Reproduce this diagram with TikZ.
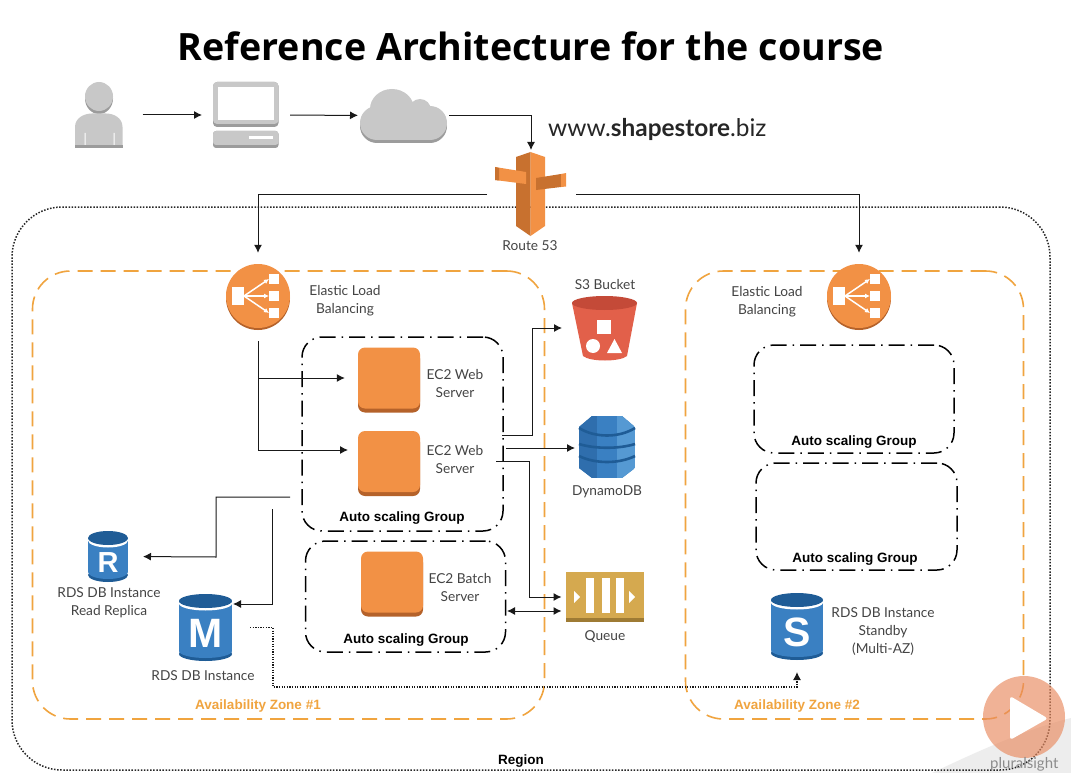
\documentclass[tikz,border=0pt]{standalone}
\usepackage{fontspec}
\setmainfont{Lato}
\newfontfamily\titlefont{Open Sans}
\newfontfamily\groupfont{Liberation Sans}
\usetikzlibrary{arrows.meta,shadows}

\definecolor{awsorange}{HTML}{F29145}
\definecolor{awsorangedark}{HTML}{B5622A}
\definecolor{routedark}{HTML}{C8712F}
\definecolor{zoneorange}{HTML}{F0A43F}
\definecolor{iconblue}{HTML}{3A80C2}
\definecolor{iconbluedark}{HTML}{1F5C96}
\definecolor{iconbluelight}{HTML}{5599D3}
\definecolor{iconblueside}{HTML}{2F6EAD}
\definecolor{icongray}{HTML}{C8C8C8}
\definecolor{icongraydark}{HTML}{9C9C9C}
\definecolor{bucketred}{HTML}{E2604A}
\definecolor{bucketdark}{HTML}{C44A38}
\definecolor{queuegold}{HTML}{D5A94F}
\definecolor{queuedark}{HTML}{9E7B34}
\definecolor{labelgray}{HTML}{444444}
\definecolor{badgeorange}{HTML}{E98A5F}

\tikzset{
	flow/.style={draw=black!90,line width=1pt,-{Latex[length=8pt,width=8pt]}},
	textlabel/.style={text=labelgray,align=center,font=\fontsize{13.7}{18}\selectfont,inner sep=0pt},
	grouplabel/.style={text=black,font=\groupfont\bfseries\fontsize{13.5}{16}\selectfont,inner sep=0pt},
	zonelabel/.style={text=zoneorange,font=\groupfont\bfseries\fontsize{13.5}{16}\selectfont,inner sep=0pt},
	regionbox/.style={draw=black!85,line width=1.5pt,dash pattern=on 1.5pt off 1.6pt,rounded corners=50pt,inner sep=0pt},
	zonebox/.style={draw=zoneorange,line width=1.6pt,dash pattern=on 15pt off 8pt,rounded corners=38pt,inner sep=0pt},
	asgbox/.style={draw=black,line width=1.5pt,dash pattern=on 16pt off 6pt on 1.5pt off 6pt,rounded corners=20pt,inner sep=0pt},
	iconslot/.style={inner sep=0pt,outer sep=0pt},
	ecbox/.style={fill=awsorange,rounded corners=7pt,minimum width=62pt,minimum height=61pt,inner sep=0pt,
		drop shadow={shadow xshift=0pt,shadow yshift=-4pt,fill=awsorangedark,opacity=1}},
	elbcircle/.style={circle,fill=awsorange,minimum size=64pt,inner sep=0pt,
		drop shadow={shadow xshift=0pt,shadow yshift=-2pt,fill=awsorangedark,opacity=1}},
}

% load balancer with its white glyph
\newcommand{\elbnode}[3]{
	\node[elbcircle] (#1) at (#2,#3) {};
	\begin{scope}[shift={(#2,#3)}]
		\fill[white] (-26,-9) rectangle (-14,9);
		\foreach \yy in {-17,0,17}{
			\fill[white] (11,\yy-5) rectangle (21,\yy+5);
			\draw[white,line width=1.5pt,-{Latex[length=5pt,width=5pt]}] (-14,0) -- (11,\yy);
		}
	\end{scope}
}
% database drum: name, centre x, top, bottom, half width, letter, letter size
\newcommand{\rdsnode}[7]{
	\node[iconslot,minimum width=2*#5 pt,minimum height=#4 pt-#3 pt] (#1) at (#2,{(#3+#4)/2}) {};
	\fill[iconbluedark] (#2,#4-7) circle[x radius=#5,y radius=7];
	\fill[iconblue] (#2-#5,#3+7) rectangle (#2+#5,#4-10);
	\fill[iconblue] (#2,#4-10) circle[x radius=#5,y radius=7];
	\fill[white] (#2,#3+9.5) circle[x radius=#5,y radius=7];
	\fill[iconbluedark] (#2,#3+7) circle[x radius=#5,y radius=7];
	\node[text=white,font=\groupfont\bfseries\fontsize{#7}{#7}\selectfont,inner sep=0pt] (#1letter) at (#2,{(#3+#4)/2+6}) {#6};
}

\begin{document}
\begin{tikzpicture}[x=1pt,y=-1pt]
	\path[use as bounding box,fill=white] (0,0) rectangle (1071,773);
	%%%%%%%%%%%%%%%%%%%%%%%%%%%%%%%%%%%%%%%%%%%%%%%%%%%%%%%%%%%%
	\fill[black!7] (932,773) .. controls (980,750) and (1030,728) .. (1071,718) -- (1071,773) -- cycle;
	\node[inner sep=0pt,font=\titlefont\bfseries\fontsize{37.6}{42}\selectfont] (title) at (531,46) {Reference Architecture for the course};
	\node[anchor=west,inner sep=0pt,text=black!85,font=\fontsize{24.4}{28}\selectfont] (site) at (548,129) {www.\textbf{shapestore}.biz};
	%%%%%%%%%%%%%%%%%%%%%%%%%%%%%%%%%%%%%%%%%%%%%%%%%%%%%%%%%%%%
	% region and zones
	\node[regionbox,minimum width=1038pt,minimum height=563pt] (region) at (531,488.5) {};
	\node[zonebox,minimum width=512pt,minimum height=448pt] (zone1) at (288.5,495) {};
	\node[zonebox,minimum width=338pt,minimum height=448pt] (zone2) at (854.5,495) {};
	\node[asgbox,minimum width=201pt,minimum height=194pt] (asg1) at (402.5,434) {};
	\node[asgbox,minimum width=200pt,minimum height=111pt] (asg2) at (405.5,596.5) {};
	\node[asgbox,minimum width=200pt,minimum height=108pt] (asg3) at (854,399) {};
	\node[asgbox,minimum width=201pt,minimum height=107pt] (asg4) at (856.5,516.5) {};
	\node[grouplabel] (asg1label) at (402,518.5) {Auto scaling Group};
	\node[grouplabel] (asg2label) at (406,640.5) {Auto scaling Group};
	\node[grouplabel] (asg3label) at (854,442.5) {Auto scaling Group};
	\node[grouplabel] (asg4label) at (855,559.5) {Auto scaling Group};
	\node[zonelabel] (zone1label) at (258,706.5) {Availability Zone \#1};
	\node[zonelabel] (zone2label) at (797,706.5) {Availability Zone \#2};
	\node[inner sep=0pt,font=\groupfont\bfseries\fontsize{13.5}{16}\selectfont] (regionlabel) at (521,761) {Region};
	%%%%%%%%%%%%%%%%%%%%%%%%%%%%%%%%%%%%%%%%%%%%%%%%%%%%%%%%%%%%
	% user, computer, cloud
	\node[iconslot,minimum width=48pt,minimum height=66pt] (user) at (98.5,115) {};
	\fill[icongraydark] (99,98.5) circle[x radius=14,y radius=15.5];
	\fill[icongray] (99,96.5) circle[x radius=14,y radius=14.5];
	\fill[icongray] (75,148) -- (75,127) .. controls (75,118) and (84,113.5) .. (92,113.5) -- (106,113.5) .. controls (114,113.5) and (122.5,118) .. (122.5,127) -- (122.5,148) -- cycle;
	\fill[white] (84.5,133) rectangle (85.5,145) (113.5,133) rectangle (114.5,145);
	\fill[icongraydark] (75,145) rectangle (122.5,148);

	\node[iconslot,minimum width=65pt,minimum height=66pt] (computer) at (245.5,115) {};
	\fill[icongraydark,rounded corners=4pt] (213,82) rectangle (278.5,127);
	\fill[icongray,rounded corners=4pt] (213,82) rectangle (278.5,124);
	\fill[white] (218,87) rectangle (274,120);
	\fill[icongraydark,rounded corners=3pt] (213,131) rectangle (278.5,148);
	\fill[icongray,rounded corners=3pt] (213,131) rectangle (278.5,145);
	\fill[white] (249,136) rectangle (273,139.5);

	\node[iconslot,minimum width=87pt,minimum height=55pt] (cloud) at (403.5,115.5) {};
	\foreach \dy/\cloudcol in {3/icongraydark,0/icongray}{
		\fill[\cloudcol] (392,109+\dy) circle[x radius=22,y radius=20];
		\fill[\cloudcol] (420,110+\dy) circle[radius=11];
		\fill[\cloudcol,rounded corners=17pt] (360,106+\dy) rectangle (447,140+\dy);
	}
	% route 53
	\node[iconslot,minimum width=70pt,minimum height=84pt] (route) at (531,194) {};
	\fill[routedark] (530.5,152) -- (516,157) -- (516,226) -- (530.5,236) -- cycle;
	\fill[awsorange] (530.5,152) -- (545,157) -- (545,226) -- (530.5,236) -- cycle;
	\fill[awsorange] (495,167) -- (526,172) -- (526,184) -- (495,180) -- cycle;
	\fill[routedark] (495,167) -- (499,168) -- (499,180.5) -- (495,180) -- cycle;
	\fill[routedark] (536,178) -- (561,174) -- (561,187) -- (536,190) -- cycle;
	\fill[awsorange] (561,174) -- (566,173) -- (566,186.5) -- (561,187) -- cycle;
	\node[textlabel] (routelabel) at (530,246) {Route 53};
	%%%%%%%%%%%%%%%%%%%%%%%%%%%%%%%%%%%%%%%%%%%%%%%%%%%%%%%%%%%%
	\elbnode{elb1}{258}{296}
	\elbnode{elb2}{859}{296}
	\node[textlabel] (elb1label) at (345,301) {Elastic Load\\Balancing};
	\node[textlabel] (elb2label) at (767,302) {Elastic Load\\Balancing};

	\node[ecbox] (ec2a) at (389,378) {};
	\node[ecbox] (ec2b) at (389,461.5) {};
	\node[ecbox] (ec2c) at (392,582) {};
	\node[textlabel] (ec2alabel) at (455,384) {EC2 Web\\Server};
	\node[textlabel] (ec2blabel) at (455,460) {EC2 Web\\Server};
	\node[textlabel] (ec2clabel) at (460,588) {EC2 Batch\\Server};
	%%%%%%%%%%%%%%%%%%%%%%%%%%%%%%%%%%%%%%%%%%%%%%%%%%%%%%%%%%%%
	% s3 bucket
	\node[iconslot,minimum width=65pt,minimum height=64pt] (s3) at (604.5,328) {};
	\fill[bucketred] (572,303) -- (637,303) -- (627,356) .. controls (620,362) and (590,362) .. (583,356) -- cycle;
	\fill[bucketdark] (604.5,303) circle[x radius=32.5,y radius=7];
	\fill[white] (597,320) rectangle (611,334);
	\fill[white] (593,346) circle[radius=7];
	\fill[white] (614.5,339) -- (622,353) -- (607,353) -- cycle;
	\node[textlabel] (s3label) at (605,285) {S3 Bucket};
	% dynamodb
	\node[iconslot,minimum width=56pt,minimum height=62pt] (dynamo) at (607,447) {};
	\begin{scope}
		\clip (592,416) -- (622,416) -- (635,427) -- (635,468) -- (622,478) -- (592,478) -- (579,468) -- (579,427) -- cycle;
		\fill[iconblue] (579,416) rectangle (635,478);
		\fill[iconblueside] (579,416) rectangle (597,478);
		\fill[iconbluelight] (617,416) rectangle (635,478);
	\end{scope}
	\draw[iconbluedark,line width=2.6pt] (579,428) .. controls (595,438) and (619,438) .. (635,428);
	\draw[iconbluedark,line width=2.6pt] (579,444) .. controls (595,449) and (619,449) .. (635,444);
	\draw[iconbluedark,line width=2.6pt] (579,456) .. controls (595,464) and (619,464) .. (635,456);
	\node[textlabel] (dynamolabel) at (607,492) {DynamoDB};
	% queue
	\node[iconslot,minimum width=78pt,minimum height=50pt] (queue) at (604.5,597) {};
	\fill[queuegold] (565.5,572) rectangle (643.5,618);
	\fill[queuedark] (565.5,618) rectangle (643.5,622);
	\foreach \barx in {586,601.5,616}{
		\fill[white] (\barx,578) rectangle (\barx+8,613);
	}
	\fill[white] (574,591) -- (580,597) -- (574,603) -- cycle;
	\fill[white] (629,591) -- (635,597) -- (629,603) -- cycle;
	\node[textlabel] (queuelabel) at (605,637) {Queue};
	% rds
	\rdsnode{rread}{108}{531}{582}{20}{R}{29}
	\rdsnode{rds}{205.5}{594}{661}{26.5}{M}{41}
	\rdsnode{standby}{797}{593}{660}{26}{S}{41}
	\node[textlabel] (rreadlabel) at (109,603) {RDS DB Instance\\Read Replica};
	\node[textlabel] (rdslabel) at (203,676) {RDS DB Instance};
	\node[textlabel] (standbylabel) at (883,632) {RDS DB Instance\\Standby\\(Multi-AZ)};
	%%%%%%%%%%%%%%%%%%%%%%%%%%%%%%%%%%%%%%%%%%%%%%%%%%%%%%%%%%%%
	% free ends of the connectors
	\coordinate (ec2bin) at (358,450);
	\coordinate (asgout1) at (502,435);
	\coordinate (asgout1up) at (532,435);
	\coordinate (asgout2) at (506,448);
	\coordinate (asgout3) at (496,461);
	\coordinate (asgout3down) at (529,461);
	\coordinate (batchout) at (507,611);
	\coordinate (asgout4) at (290,497);
	\coordinate (asgout4down) at (216,557);
	\coordinate (asgout5) at (272,509);
	\coordinate (rdsin) at (233,604);
	\coordinate (repl1) at (273,627.5);
	\coordinate (repl2) at (797,687);

	\draw[flow,shorten <=20pt,shorten >=11pt] (user) -- (computer);
	\draw[flow,shorten <=12pt,shorten >=2pt] (computer) -- (cloud);
	\draw[flow,shorten <=2pt,shorten >=2pt] (cloud.east) -| (route.north);
	\draw[flow,shorten <=9pt,shorten >=11pt] (route.west) -| (elb1.north);
	\draw[flow,shorten <=10pt,shorten >=11pt] (route.east) -| (elb2.north);
	\draw[flow,shorten <=13pt,shorten >=13pt] (elb1.south) |- (ec2a.west);
	\draw[flow,shorten <=13pt,shorten >=10pt] (elb1.south) |- (ec2bin);
	\draw[flow,shorten >=10pt] (asgout1) -- (asgout1up) |- (s3.west);
	\draw[flow,shorten >=4pt] (asgout2) -- (asgout2 -| dynamo.west);
	\draw[flow,shorten >=4pt] (asgout3) -- (asgout3down) |- (queue.west);
	\draw[draw=black!90,line width=1pt,{Latex[length=8pt,width=8pt]}-{Latex[length=8pt,width=8pt]},shorten >=4pt] (batchout) -- (batchout -| queue.west);
	\draw[flow,shorten >=15pt] (asgout4) -| (asgout4down) -- (rread.east);
	\draw[flow] (asgout5) |- (rdsin);
	\draw[flow,line width=1.2pt,dash pattern=on 1.3pt off 1.3pt,shorten <=18pt,shorten >=12pt] (rds.east) -- (repl1) |- (repl2) -- (standby.south);
	%%%%%%%%%%%%%%%%%%%%%%%%%%%%%%%%%%%%%%%%%%%%%%%%%%%%%%%%%%%%
	% player badge
	\fill[badgeorange,opacity=.65] (1024,717) circle[radius=41];
	\fill[white,rounded corners=3pt] (1010,696) -- (1048,718.5) -- (1010,740) -- cycle;
	\node[anchor=base west,inner sep=0pt,text=black!45,font=\fontsize{15}{17}\selectfont] (brand) at (990,768) {pluralsight};
\end{tikzpicture}
\end{document}
